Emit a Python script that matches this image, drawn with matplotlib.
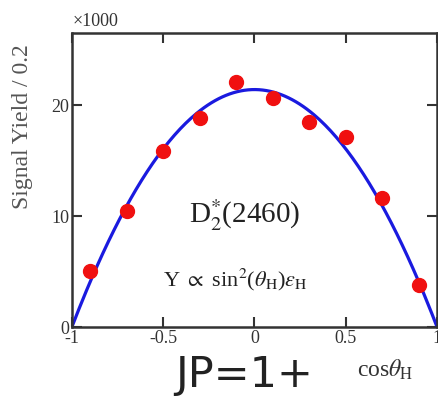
import numpy as np
import matplotlib.pyplot as plt

# ---------- DADOS ----------
cos_theta = [-0.9, -0.7, -0.5, -0.3, -0.1, 0.1, 0.3, 0.5, 0.7, 0.9]
signal_yield = [5.1, 10.5, 15.9, 18.8, 22.1, 20.6, 18.5, 17.1, 11.6, 3.8]
yield_err = [0.6, 0.5, 0.5, 0.5, 0.5, 0.5, 0.5, 0.5, 0.5, 0.6]
fit_amplitude = 21.4   # Y = A * sin^2(theta_H)

xticks = [-1, -0.5, 0, 0.5, 1]
xtick_labels = ["-1", "-0.5", "0", "0.5", "1"]
yticks = [0, 10, 20]

plt.rcParams["font.family"] = ["Liberation Serif", "DejaVu Serif"]
plt.rcParams["mathtext.fontset"] = "stix"

fig = plt.figure(figsize=(4.38, 3.97), dpi=100)
ax = fig.add_axes([0.164, 0.176, 0.834, 0.741])

# curva de ajuste
x_fit = np.linspace(-1, 1, 200)
ax.plot(x_fit, fit_amplitude * (1 - x_fit**2), color="#1a1adf", lw=2.3, zorder=2)

# pontos
ax.errorbar(cos_theta, signal_yield, yerr=yield_err, fmt="o", color="#f01010",
            ms=10, elinewidth=2, capsize=0, zorder=3)

ax.set_xlim(-1, 1)
ax.set_ylim(0, 26.5)
ax.set_xticks(xticks)
ax.set_xticklabels(xtick_labels)
ax.set_yticks(yticks)
ax.tick_params(direction="in", top=True, right=True, length=7, width=1.5,
               labelsize=13, colors="#333333", pad=2)
for s in ax.spines.values():
    s.set_linewidth(1.8)
    s.set_color("#333333")

ax.set_ylabel("Signal Yield / 0.2", fontsize=17, color="#555555")
ax.yaxis.set_label_coords(-0.105, 0.68)
fig.text(0.165, 0.925, "×1000", fontsize=13, color="#333333", va="bottom")
fig.text(0.815, 0.068, r"cos$\theta_{\rm H}$", fontsize=17, color="#333333",
         va="center")

ax.text(0.32, 0.38, r"D$_2^{*}$(2460)", transform=ax.transAxes,
        fontsize=21, color="#222222", va="center")
ax.text(0.25, 0.16, r"Y $\propto$ sin$^2$($\theta_{\rm H}$)$\varepsilon_{\rm H}$",
        transform=ax.transAxes, fontsize=16, color="#222222", va="center")

fig.text(0.40, 0.055, "JP=1+", fontsize=31, family="DejaVu Sans",
         color="#222222", va="center")

fig.savefig("out.png", dpi=100)
